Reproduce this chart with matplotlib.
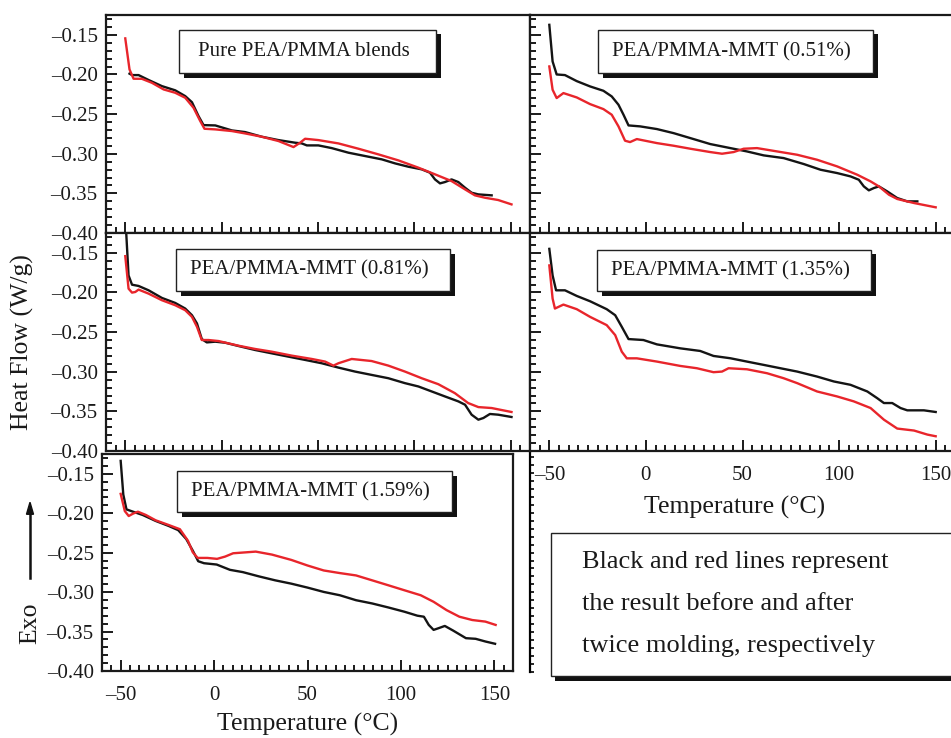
import numpy as np
import matplotlib
matplotlib.use("Agg")
from matplotlib import pyplot as plt
from matplotlib.patches import Rectangle
from matplotlib.ticker import MultipleLocator

plt.rcParams['font.family'] = ['Liberation Serif', 'DejaVu Serif']

# ---- data ----
# Pure PEA/PMMA blends
pure_t_blk = [-47.8, -46.5, -43.1, -37.9, -31.0, -24.1, -18.9, -15.4, -12.0, -9.4, -3.3, 5.3, 12.2, 20.9, 29.5, 38.1, 41.6, 44.2, 50.2, 57.1, 65.8, 74.4, 83.1, 90.0, 96.9, 103.8, 108.1, 110.7, 113.3, 115.9, 119.3, 122.8, 126.3, 129.7, 133.2, 140.1]
pure_hf_blk = [-0.199, -0.2008, -0.2008, -0.207, -0.2147, -0.220, -0.2273, -0.235, -0.2525, -0.2639, -0.2643, -0.2706, -0.2727, -0.2786, -0.2828, -0.2861, -0.287, -0.2895, -0.2895, -0.2929, -0.2987, -0.3029, -0.3071, -0.3122, -0.3164, -0.3197, -0.3239, -0.3324, -0.3374, -0.3357, -0.3324, -0.3357, -0.3429, -0.3492, -0.3513, -0.3525]
pure_t_red = [-50.0, -47.8, -45.7, -41.4, -36.2, -30.1, -24.1, -18.9, -14.6, -11.1, -8.9, -3.3, 5.3, 12.2, 20.9, 29.5, 37.3, 40.7, 43.3, 50.2, 60.6, 71.0, 81.3, 91.7, 102.1, 110.7, 119.3, 126.3, 131.4, 136.6, 143.5, 150.4]
pure_hf_red = [-0.1545, -0.1937, -0.2054, -0.2055, -0.2105, -0.2189, -0.2231, -0.2294, -0.242, -0.2588, -0.2685, -0.2693, -0.2714, -0.2744, -0.2786, -0.284, -0.2916, -0.2861, -0.2811, -0.2828, -0.287, -0.2937, -0.3008, -0.3084, -0.3176, -0.326, -0.3345, -0.345, -0.3525, -0.3555, -0.3584, -0.3639]

# PEA/PMMA-MMT (0.51%)
m051_t_blk = [-50.0, -48.3, -46.2, -41.9, -35.8, -28.9, -22.0, -17.7, -14.2, -11.6, -9.0, -3.0, 5.7, 14.3, 23.0, 33.3, 43.7, 52.3, 61.0, 71.3, 81.7, 90.4, 99.0, 105.9, 110.2, 112.8, 115.4, 118.0, 120.6, 124.9, 130.1, 135.3, 140.5]
m051_hf_blk = [-0.1374, -0.1836, -0.200, -0.2008, -0.2084, -0.2151, -0.2206, -0.2277, -0.2382, -0.2508, -0.2643, -0.2655, -0.2689, -0.274, -0.2803, -0.2878, -0.2929, -0.2971, -0.3021, -0.3055, -0.313, -0.3202, -0.3244, -0.3286, -0.3328, -0.3412, -0.3462, -0.3433, -0.3412, -0.3475, -0.3559, -0.3601, -0.3601]
m051_t_red = [-50.0, -48.3, -46.2, -42.7, -35.8, -28.9, -22.0, -17.7, -14.2, -10.8, -8.2, -4.7, 5.7, 14.3, 23.0, 33.3, 39.4, 45.4, 50.6, 57.5, 67.9, 78.3, 88.6, 99.0, 109.4, 116.3, 120.6, 125.8, 130.1, 138.8, 150.0]
m051_hf_red = [-0.1899, -0.2193, -0.2298, -0.2235, -0.229, -0.2374, -0.2437, -0.2508, -0.2655, -0.2836, -0.2853, -0.2815, -0.2866, -0.2899, -0.2937, -0.2979, -0.300, -0.2979, -0.2937, -0.2929, -0.2971, -0.3013, -0.3076, -0.316, -0.3265, -0.3349, -0.3412, -0.3517, -0.3571, -0.3622, -0.3676]

# PEA/PMMA-MMT (0.81%)
m081_t_blk = [-49.8, -48.3, -46.5, -43.1, -37.9, -31.0, -24.1, -18.9, -15.4, -12.8, -10.3, -7.7, -3.3, 1.8, 8.8, 17.4, 26.0, 34.7, 43.3, 51.9, 60.6, 69.2, 77.8, 86.5, 95.1, 102.1, 109.0, 115.9, 122.8, 126.3, 129.7, 133.2, 135.8, 139.2, 143.5, 150.4]
m081_hf_blk = [-0.112, -0.1785, -0.1902, -0.1918, -0.1973, -0.2069, -0.2132, -0.2203, -0.2287, -0.2391, -0.2588, -0.263, -0.2621, -0.2634, -0.2676, -0.2726, -0.2768, -0.281, -0.2851, -0.2893, -0.2948, -0.2998, -0.304, -0.3082, -0.3144, -0.3186, -0.3249, -0.3312, -0.3374, -0.3416, -0.3542, -0.3605, -0.3584, -0.3533, -0.3542, -0.3571]
m081_t_red = [-50.0, -48.3, -46.5, -44.8, -43.1, -37.9, -31.0, -24.1, -18.9, -15.4, -12.8, -10.3, -6.8, -1.6, 8.8, 17.4, 26.0, 36.4, 46.8, 53.7, 58.0, 60.6, 67.5, 77.8, 86.5, 95.1, 103.8, 112.4, 121.0, 127.9, 133.2, 140.1, 150.4]
m081_hf_red = [-0.1542, -0.1952, -0.2002, -0.1994, -0.1964, -0.2015, -0.2098, -0.2161, -0.2224, -0.2308, -0.2433, -0.260, -0.260, -0.2613, -0.2672, -0.2713, -0.2747, -0.2797, -0.2839, -0.2872, -0.2923, -0.2893, -0.2839, -0.2865, -0.2923, -0.2998, -0.3082, -0.3157, -0.327, -0.3395, -0.3446, -0.3458, -0.3508]

# PEA/PMMA-MMT (1.35%)
m135_t_blk = [-50.0, -48.3, -46.5, -41.9, -35.8, -28.9, -20.3, -15.9, -12.5, -9.0, -1.3, 5.7, 17.8, 28.1, 35.0, 43.7, 52.3, 61.0, 69.6, 78.3, 88.6, 97.3, 105.9, 114.6, 119.7, 123.2, 127.5, 131.8, 135.3, 143.9, 150.0]
m135_hf_blk = [-0.145, -0.1785, -0.1973, -0.1973, -0.2044, -0.2111, -0.2211, -0.2287, -0.2433, -0.2588, -0.260, -0.2655, -0.2705, -0.2738, -0.2801, -0.283, -0.2872, -0.2914, -0.2956, -0.2998, -0.3061, -0.3123, -0.3165, -0.3249, -0.3333, -0.3395, -0.3395, -0.3458, -0.3487, -0.3487, -0.3508]
m135_t_red = [-50.0, -48.3, -47.1, -42.7, -35.8, -28.9, -20.3, -15.9, -12.5, -9.9, -4.7, 5.7, 17.8, 26.4, 35.0, 39.4, 42.8, 52.3, 62.7, 71.3, 78.3, 88.6, 99.0, 107.6, 116.3, 123.2, 130.1, 138.8, 145.7, 150.0]
m135_hf_red = [-0.1659, -0.2077, -0.2203, -0.2153, -0.2211, -0.2308, -0.2412, -0.2538, -0.2747, -0.2831, -0.2831, -0.2872, -0.2927, -0.2956, -0.3006, -0.2998, -0.2956, -0.2969, -0.3019, -0.3082, -0.3144, -0.3249, -0.3312, -0.3374, -0.3458, -0.3605, -0.3717, -0.3742, -0.3793, -0.3814]

# PEA/PMMA-MMT (1.59%)
m159_t_blk = [-50.0, -48.6, -46.9, -43.4, -38.2, -31.3, -24.4, -19.2, -14.9, -11.4, -8.5, -5.4, 1.4, 8.5, 15.4, 24.0, 32.7, 41.3, 50.0, 58.7, 67.3, 76.0, 84.6, 93.3, 101.9, 108.8, 112.3, 114.9, 117.5, 120.1, 123.5, 127.9, 134.8, 140.0, 145.2, 150.4]
m159_hf_blk = [-0.1337, -0.1764, -0.1952, -0.1981, -0.2023, -0.2098, -0.2161, -0.2215, -0.2328, -0.2475, -0.2609, -0.2634, -0.2651, -0.2718, -0.2747, -0.2801, -0.2851, -0.2893, -0.2943, -0.2998, -0.304, -0.3103, -0.3144, -0.3195, -0.3249, -0.3299, -0.3312, -0.3416, -0.3479, -0.3458, -0.3429, -0.3487, -0.3584, -0.3592, -0.3626, -0.3655]
m159_t_red = [-50.0, -47.8, -45.7, -43.4, -40.8, -36.5, -31.3, -24.4, -18.3, -14.0, -11.4, -8.8, -3.6, 1.6, 5.9, 10.2, 17.1, 22.3, 31.0, 41.3, 50.0, 58.7, 67.3, 76.0, 84.6, 93.3, 101.9, 110.6, 117.5, 124.4, 131.3, 138.2, 145.2, 150.7]
m159_hf_red = [-0.1755, -0.1973, -0.2036, -0.2006, -0.1981, -0.2023, -0.209, -0.2149, -0.2203, -0.2349, -0.2496, -0.2567, -0.2567, -0.2579, -0.255, -0.2508, -0.2496, -0.2487, -0.2525, -0.2592, -0.2663, -0.2726, -0.2759, -0.2789, -0.2851, -0.2914, -0.2977, -0.304, -0.3123, -0.3228, -0.3312, -0.3354, -0.3374, -0.3416]

y_ticks = [-0.40, -0.35, -0.30, -0.25, -0.20, -0.15]
y_ticklabels = ['\u20130.40', '\u20130.35', '\u20130.30', '\u20130.25', '\u20130.20', '\u20130.15']
x_ticks = [-50, 0, 50, 100, 150]
x_ticklabels = ['\u201350', '0', '50', '100', '150']

titles = ['Pure PEA/PMMA blends', 'PEA/PMMA-MMT (0.51%)', 'PEA/PMMA-MMT (0.81%)',
          'PEA/PMMA-MMT (1.35%)', 'PEA/PMMA-MMT (1.59%)']
note_lines = ['Black and red lines represent', 'the result before and after',
              'twice molding, respectively']

BLACK = '#141414'
RED = '#e8252b'

# ---- layout in pixels ----
W, H = 951, 738
fig = plt.figure(figsize=(W / 100, H / 100), dpi=100)


def px_axes(x0, y0, x1, y1):
    return fig.add_axes([x0 / W, 1 - y1 / H, (x1 - x0) / W, (y1 - y0) / H])


def style(ax, left_labels, bottom_labels):
    ax.set_xlim(-60, 160)
    ax.set_ylim(-0.40, -0.125)
    ax.set_xticks(x_ticks)
    ax.set_yticks(y_ticks)
    ax.set_xticklabels(x_ticklabels)
    ax.set_yticklabels(y_ticklabels)
    ax.xaxis.set_minor_locator(MultipleLocator(5))
    ax.yaxis.set_minor_locator(MultipleLocator(0.01))
    ax.tick_params(which='both', direction='in', top=False, right=False,
                   width=1.4, labelsize=15, colors='#1a1a1a')
    ax.tick_params(which='major', length=8)
    ax.tick_params(which='minor', length=4)
    ax.tick_params(axis='y', which='major', pad=6)
    ax.tick_params(axis='x', which='major', pad=11)
    ax.tick_params(labelleft=left_labels, labelbottom=bottom_labels)
    for s in ax.spines.values():
        s.set_linewidth(1.6)
        s.set_color('#1a1a1a')


def title_box(x0, y0, x1, y1, text, size=15):
    d = 4.5
    fig.add_artist(Rectangle((x0 / W + d / W, 1 - (y1 + d) / H), (x1 - x0) / W, (y1 - y0) / H,
                             transform=fig.transFigure, facecolor='#111111', edgecolor='none', zorder=5))
    fig.add_artist(Rectangle((x0 / W, 1 - y1 / H), (x1 - x0) / W, (y1 - y0) / H,
                             transform=fig.transFigure, facecolor='white', edgecolor='#222222',
                             linewidth=1.0, zorder=6))
    if text is not None:
        fig.text((x0 + x1) / 2 / W - 4 / W, 1 - (y0 + y1) / 2 / H, text, fontsize=size,
                 ha='center', va='center', color='#1a1a1a', zorder=7)


panels = [
    ((106, 15, 530, 233), pure_t_blk, pure_hf_blk, pure_t_red, pure_hf_red, True, False, (179, 30, 436, 73)),
    ((530, 15, 955, 233), m051_t_blk, m051_hf_blk, m051_t_red, m051_hf_red, False, False, (598, 30, 873, 73)),
    ((106, 233, 530, 451), m081_t_blk, m081_hf_blk, m081_t_red, m081_hf_red, True, False, (176, 249, 450, 291)),
    ((530, 233, 955, 451), m135_t_blk, m135_hf_blk, m135_t_red, m135_hf_red, False, True, (597, 250, 871, 291)),
    ((102, 454, 513, 671), m159_t_blk, m159_hf_blk, m159_t_red, m159_hf_red, True, True, (177, 471, 452, 512)),
]

# stub axis left over below the right-hand column
stub = px_axes(530, 453, 955, 672)
for k in ['top', 'right', 'bottom']:
    stub.spines[k].set_visible(False)
stub.spines['left'].set_linewidth(1.6)
stub.set_ylim(-0.40, -0.125)
stub.set_xticks([])
stub.set_yticks([])
stub.yaxis.set_minor_locator(MultipleLocator(0.01))
stub.tick_params(which='minor', direction='in', length=3, width=1.2)
stub.patch.set_alpha(0)

for (box, tb, hb, tr, hr, lab_left, lab_bot, tbox), title in zip(panels, titles):
    ax = px_axes(*box)
    ax.plot(tb, hb, color=BLACK, lw=1.7)
    ax.plot(tr, hr, color=RED, lw=1.7)
    style(ax, lab_left, lab_bot)
    title_box(*tbox, title)

# axis labels
fig.text(22 / W, 1 - 342 / H, 'Heat Flow (W/g)', rotation=90, fontsize=18.5,
         ha='center', va='center', color='#1a1a1a')
fig.text(30 / W, 1 - 623 / H, 'Exo', rotation=90, fontsize=18.5,
         ha='center', va='center', color='#1a1a1a')
fig.add_artist(plt.Line2D([30 / W, 30 / W], [1 - 578 / H, 1 - 510 / H],
                          transform=fig.transFigure, color='#111111', lw=1.8))
fig.add_artist(matplotlib.patches.FancyArrow(30 / W, 1 - 515 / H, 0, 0.001, width=0,
                                             head_width=7 / W, head_length=12 / H,
                                             length_includes_head=False,
                                             transform=fig.transFigure, color='#111111'))
fig.text(308 / W, 1 - 724 / H, 'Temperature (\u00b0C)', fontsize=18.5,
         ha='center', va='center', color='#1a1a1a')
fig.text(735 / W, 1 - 507 / H, 'Temperature (\u00b0C)', fontsize=18.5,
         ha='center', va='center', color='#1a1a1a')

# note box
title_box(551, 533, 960, 676, None)
for yb, line in zip([568, 610, 652], note_lines):
    fig.text(582 / W, 1 - yb / H, line, fontsize=19, ha='left', va='baseline',
             color='#1a1a1a', zorder=8)

fig.savefig('out.png', dpi=100)
